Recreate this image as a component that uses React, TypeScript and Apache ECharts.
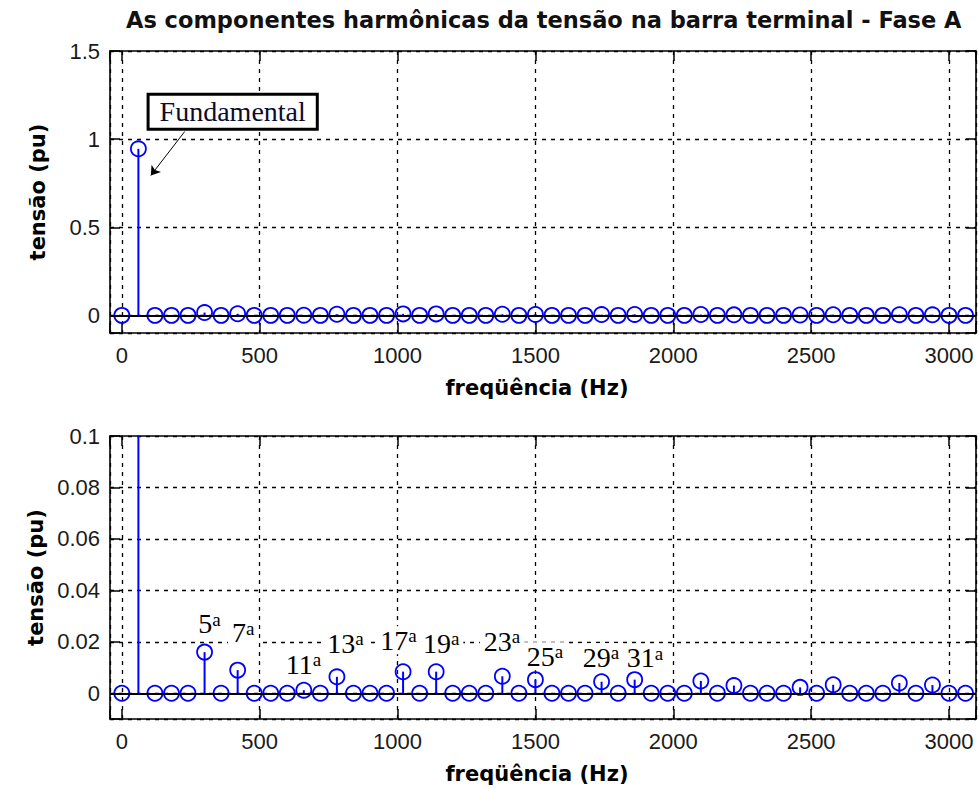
import React, { useEffect, useRef } from 'react';
import * as echarts from 'echarts';

// ---- data ----
const frequencies = [
  0, 60, 120, 180, 240, 300, 360, 420, 480, 540,
  600, 660, 720, 780, 840, 900, 960, 1020, 1080, 1140,
  1200, 1260, 1320, 1380, 1440, 1500, 1560, 1620, 1680, 1740,
  1800, 1860, 1920, 1980, 2040, 2100, 2160, 2220, 2280, 2340,
  2400, 2460, 2520, 2580, 2640, 2700, 2760, 2820, 2880, 2940,
  3000, 3060,
];
const amplitudes = [
  0, 0.945, 0, 0, 0, 0.016, 0, 0.009, 0, 0,
  0, 0.0012, 0, 0.0064, 0, 0, 0, 0.0084, 0, 0.0084,
  0, 0, 0, 0.0066, 0, 0.0053, 0, 0, 0, 0.0045,
  0, 0.0053, 0, 0, 0, 0.0048, 0, 0.003, 0, 0,
  0, 0.0023, 0, 0.0033, 0, 0, 0, 0.004, 0, 0.0032,
  0, 0,
];
const harmonicOrders = ['5', '7', '11', '13', '17', '19', '23', '25', '29', '31'];
const harmonicLabelFreq = [318, 440, 659, 811, 1003, 1158, 1379, 1535, 1738, 1897];
const harmonicLabelLevel = [0.0271, 0.0236, 0.0112, 0.0195, 0.0206, 0.0195, 0.0202, 0.0144, 0.014, 0.0138];
const fundamentalNote = { text: 'Fundamental', freq: 402, level: 1.156 };
const fundamentalArrow = { fromFreq: 228, fromLevel: 1.043, toFreq: 105, toLevel: 0.794 };

const titleText = 'As componentes harmônicas da tensão na barra terminal - Fase A';
const xName = 'freqüência (Hz)';
const yName = 'tensão (pu)';

// ---- styles ----
const BLUE = '#0000ff';
const X_MIN = -43;
const X_MAX = 3098;
const SANS = 'Liberation Sans, Arial, sans-serif';
const BOLD = 'DejaVu Sans, sans-serif';
const SERIF = 'Liberation Serif, Times New Roman, serif';
const LEFT = 110;
const WIDTH = 867.5;

const splitLine = { show: true, lineStyle: { color: '#000', type: [4, 5], width: 1.3 } };
const axisLineStyle = { color: '#000', width: 1.6 };
const tickStyle = { show: true, inside: true, length: 10, lineStyle: { color: '#000', width: 1.5 } };

function xAxesFor(gridIndex: number) {
  return [
    {
      type: 'value', gridIndex, position: 'bottom', min: X_MIN, max: X_MAX, splitNumber: 5,
      axisLine: { show: true, onZero: false, lineStyle: axisLineStyle },
      axisTick: tickStyle,
      axisLabel: {
        margin: 11, fontFamily: SANS, fontSize: 22, color: '#1a1a1a',
        formatter: (v: number) => (v < 0 || v > 3000 ? '' : String(v)),
      },
      splitLine,
      name: xName, nameLocation: 'middle', nameGap: 44,
      nameTextStyle: { fontFamily: BOLD, fontWeight: 'bold', fontSize: 21, color: '#000', padding: [0, 12, 0, 0] },
    },
    {
      type: 'value', gridIndex, position: 'top', min: X_MIN, max: X_MAX, splitNumber: 5,
      axisLine: { show: true, onZero: false, lineStyle: axisLineStyle },
      axisTick: tickStyle,
      axisLabel: { show: false },
      splitLine: { show: false },
    },
  ];
}

function yAxesFor(gridIndex: number, min: number, max: number, splitNumber: number) {
  return [
    {
      type: 'value', gridIndex, position: 'left', min, max, splitNumber,
      axisLine: { show: true, onZero: false, lineStyle: axisLineStyle },
      axisTick: tickStyle,
      axisLabel: {
        margin: 10, fontFamily: SANS, fontSize: 22, color: '#1a1a1a',
        formatter: (v: number) => (v < 0 ? '' : String(v)),
      },
      splitLine,
      name: yName, nameLocation: 'middle', nameGap: 62, nameRotate: 90,
      nameTextStyle: { fontFamily: BOLD, fontWeight: 'bold', fontSize: 21, color: '#000' },
    },
    {
      type: 'value', gridIndex, position: 'right', min, max, splitNumber,
      axisLine: { show: true, onZero: false, lineStyle: axisLineStyle },
      axisTick: tickStyle,
      axisLabel: { show: false },
      splitLine: { show: false },
    },
  ];
}

function stemSeries(xAxisIndex: number, yAxisIndex: number) {
  return {
    type: 'custom',
    xAxisIndex,
    yAxisIndex,
    clip: true,
    silent: true,
    z: 3,
    data: frequencies.map((f, i) => [f, amplitudes[i]]),
    renderItem: (_params: any, api: any) => {
      const x = api.value(0);
      const y = api.value(1);
      const base = api.coord([x, 0]);
      const top = api.coord([x, y]);
      return {
        type: 'group',
        children: [
          {
            type: 'line',
            shape: { x1: base[0], y1: base[1], x2: top[0], y2: top[1] },
            style: { stroke: BLUE, lineWidth: 2 },
          },
          {
            type: 'circle',
            shape: { cx: top[0], cy: top[1], r: 7.5 },
            style: { fill: 'none', stroke: BLUE, lineWidth: 1.8 },
          },
        ],
      };
    },
    markLine: {
      silent: true,
      symbol: ['none', 'none'],
      label: { show: false },
      lineStyle: { color: '#000', width: 2, type: 'solid' },
      data: [{ yAxis: 0 }],
    },
  };
}

export default function App() {
  const ref = useRef<HTMLDivElement>(null);

  useEffect(() => {
    if (!ref.current) return;
    const chart = echarts.init(ref.current, null, { renderer: 'svg' });

    const option: any = {
      animation: false,
      backgroundColor: '#ffffff',
      title: {
        text: titleText,
        left: LEFT + WIDTH / 2,
        textAlign: 'center',
        top: 8,
        padding: 0,
        textStyle: { fontFamily: BOLD, fontWeight: 'bold', fontSize: 22.5, color: '#111' },
      },
      grid: [
        { left: LEFT, top: 51, width: WIDTH, height: 282, containLabel: false },
        { left: LEFT, top: 436, width: WIDTH, height: 283, containLabel: false },
      ],
      xAxis: [...xAxesFor(0), ...xAxesFor(1)],
      yAxis: [...yAxesFor(0, -0.1, 1.5, 3), ...yAxesFor(1, -0.01, 0.1, 5)],
      series: [
        stemSeries(0, 0),
        {
          type: 'scatter',
          xAxisIndex: 0,
          yAxisIndex: 0,
          silent: true,
          z: 4,
          symbolSize: 0,
          itemStyle: { color: '#000', opacity: 1 },
          data: [[fundamentalNote.freq, fundamentalNote.level]],
          label: {
            show: true,
            position: [0, 0],
            align: 'center',
            verticalAlign: 'middle',
            formatter: fundamentalNote.text,
            fontFamily: SERIF,
            fontSize: 28,
            lineHeight: 30,
            color: '#0c0c30',
            backgroundColor: '#fff',
            borderColor: '#000',
            borderWidth: 3,
            padding: [2, 10, 0, 10],
          },
          markLine: {
            silent: true,
            symbol: ['none', 'arrow'],
            symbolSize: 9,
            label: { show: false },
            lineStyle: { color: '#000', width: 1, type: 'solid' },
            data: [
              [
                { coord: [fundamentalArrow.fromFreq, fundamentalArrow.fromLevel] },
                { coord: [fundamentalArrow.toFreq, fundamentalArrow.toLevel] },
              ],
            ],
          },
        },
        stemSeries(2, 2),
        {
          type: 'scatter',
          xAxisIndex: 2,
          yAxisIndex: 2,
          silent: true,
          z: 2,
          symbolSize: 0,
          itemStyle: { color: '#000', opacity: 1 },
          data: harmonicOrders.map((h, i) => ({
            value: [harmonicLabelFreq[i], harmonicLabelLevel[i]],
            name: h,
          })),
          label: {
            show: true,
            position: [0, 0],
            align: 'center',
            verticalAlign: 'middle',
            formatter: (p: any) => `{n|${p.name}}{s|a}`,
            backgroundColor: '#fff',
            padding: [0, 4],
            color: '#000',
            rich: {
              n: { fontFamily: SERIF, fontSize: 28, lineHeight: 28, color: '#000' },
              s: { fontFamily: SERIF, fontSize: 19, verticalAlign: 'top', color: '#000' },
            },
          },
        },
      ],
    };

    chart.setOption(option);
    return () => chart.dispose();
  }, []);

  return (
    <div
      ref={ref}
      style={{ position: 'fixed', left: 0, top: 0, width: 979, height: 789, background: '#fff' }}
    />
  );
}
